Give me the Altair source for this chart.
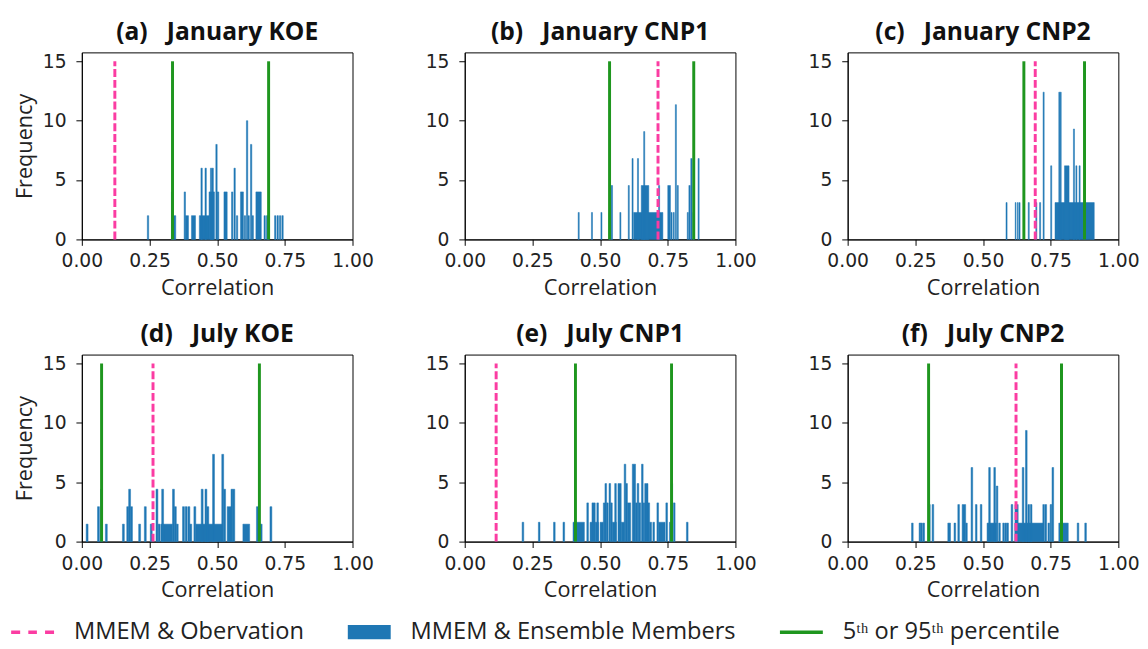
import altair as alt
import pandas as pd

# ---------------- data ----------------
TITLES = [
    "(a)\u00a0\u00a0\u00a0January KOE", "(b)\u00a0\u00a0\u00a0January CNP1", "(c)\u00a0\u00a0\u00a0January CNP2",
    "(d)\u00a0\u00a0\u00a0July KOE", "(e)\u00a0\u00a0\u00a0July CNP1", "(f)\u00a0\u00a0\u00a0July CNP2",
]
# frequency (density) height of one ensemble member in each panel
UNITS = [2.0, 2.27, 3.1, 1.47, 1.63, 1.56]
# MMEM & observation correlation
OBS = [0.122, 0.714, 0.693, 0.263, 0.116, 0.622]
# 5th / 95th percentiles
P5 = [0.335, 0.535, 0.651, 0.073, 0.409, 0.299]
P95 = [0.690, 0.846, 0.875, 0.656, 0.764, 0.790]

# histogram bars: (bin start, bin end, member count)
BARS_A = [
    (0.242, 0.247, 1), (0.331, 0.336, 2), (0.336, 0.347, 1), (0.378, 0.383, 2), (0.383, 0.394, 1),
    (0.405, 0.420, 1), (0.434, 0.470, 1), (0.440, 0.445, 3), (0.455, 0.460, 3),
    (0.470, 0.490, 2), (0.475, 0.480, 3), (0.481, 0.486, 3), (0.495, 0.500, 4), (0.500, 0.506, 2),
    (0.525, 0.537, 2), (0.553, 0.558, 2), (0.562, 0.567, 3), (0.571, 0.576, 1),
    (0.586, 0.597, 2), (0.600, 0.605, 1), (0.608, 0.613, 5), (0.614, 0.619, 1), (0.623, 0.628, 4),
    (0.629, 0.634, 1), (0.643, 0.663, 2), (0.673, 0.678, 1), (0.682, 0.692, 1),
    (0.712, 0.717, 1), (0.721, 0.726, 1), (0.730, 0.735, 1), (0.739, 0.744, 1),
]
BARS_B = [
    (0.419, 0.423, 1), (0.468, 0.472, 1), (0.503, 0.507, 1), (0.533, 0.538, 1), (0.541, 0.546, 2),
    (0.573, 0.577, 1), (0.604, 0.608, 2), (0.618, 0.622, 3), (0.624, 0.732, 1), (0.638, 0.642, 3),
    (0.652, 0.680, 2), (0.661, 0.665, 4), (0.716, 0.720, 2), (0.750, 0.760, 2), (0.762, 0.766, 1),
    (0.770, 0.774, 1), (0.778, 0.782, 5), (0.785, 0.789, 2), (0.822, 0.826, 1), (0.828, 0.833, 2),
    (0.835, 0.840, 3), (0.843, 0.848, 1), (0.862, 0.866, 3),
]
BARS_C = [
    (0.585, 0.589, 1), (0.619, 0.622, 1), (0.627, 0.630, 1), (0.633, 0.637, 1), (0.667, 0.671, 1),
    (0.695, 0.699, 1), (0.709, 0.713, 1), (0.722, 0.726, 4), (0.750, 0.754, 2), (0.766, 0.911, 1),
    (0.780, 0.784, 4), (0.785, 0.789, 4), (0.801, 0.818, 2), (0.834, 0.838, 3), (0.843, 0.847, 2),
    (0.855, 0.859, 2),
]
BARS_D = [
    (0.016, 0.023, 1), (0.058, 0.065, 2), (0.069, 0.076, 3), (0.087, 0.094, 1), (0.150, 0.157, 1),
    (0.166, 0.173, 2), (0.173, 0.180, 3), (0.180, 0.187, 2), (0.210, 0.217, 1), (0.231, 0.238, 2),
    (0.253, 0.260, 1), (0.274, 0.281, 3), (0.282, 0.289, 1), (0.292, 0.335, 1), (0.295, 0.302, 3),
    (0.335, 0.342, 3), (0.342, 0.349, 2), (0.349, 0.356, 1), (0.372, 0.379, 2), (0.382, 0.389, 2),
    (0.392, 0.399, 2), (0.399, 0.406, 1), (0.414, 0.421, 2), (0.421, 0.520, 1), (0.441, 0.448, 3),
    (0.455, 0.462, 3), (0.462, 0.469, 2), (0.483, 0.490, 5), (0.517, 0.524, 5), (0.524, 0.531, 3),
    (0.537, 0.551, 2), (0.551, 0.558, 3), (0.558, 0.565, 3), (0.595, 0.620, 1), (0.645, 0.652, 2),
    (0.659, 0.666, 1), (0.695, 0.702, 2),
]
BARS_E = [
    (0.212, 0.218, 1), (0.272, 0.278, 1), (0.328, 0.334, 1), (0.363, 0.369, 1), (0.400, 0.442, 1),
    (0.451, 0.457, 2), (0.463, 0.470, 1), (0.470, 0.482, 2), (0.482, 0.494, 1), (0.488, 0.494, 2),
    (0.500, 0.512, 1), (0.512, 0.518, 2), (0.518, 0.524, 3), (0.524, 0.530, 2), (0.533, 0.539, 3),
    (0.539, 0.545, 2), (0.545, 0.560, 1), (0.554, 0.560, 3), (0.566, 0.578, 3), (0.578, 0.590, 1),
    (0.589, 0.595, 4), (0.595, 0.601, 3), (0.601, 0.613, 2), (0.619, 0.631, 4), (0.631, 0.637, 2),
    (0.637, 0.643, 3), (0.643, 0.650, 2), (0.653, 0.659, 4), (0.659, 0.665, 2), (0.665, 0.677, 3),
    (0.677, 0.683, 2), (0.683, 0.690, 1), (0.695, 0.701, 1), (0.710, 0.716, 2), (0.716, 0.740, 1),
    (0.743, 0.749, 2), (0.756, 0.762, 1), (0.762, 0.768, 3), (0.771, 0.777, 2), (0.819, 0.825, 1),
]
BARS_F = [
    (0.236, 0.242, 1), (0.264, 0.270, 1), (0.270, 0.276, 1), (0.278, 0.284, 1), (0.298, 0.305, 2),
    (0.312, 0.318, 2), (0.370, 0.380, 1), (0.393, 0.399, 1), (0.407, 0.413, 2), (0.423, 0.436, 2),
    (0.436, 0.442, 1), (0.456, 0.462, 4), (0.472, 0.478, 2), (0.490, 0.496, 2), (0.515, 0.550, 1),
    (0.521, 0.527, 4), (0.540, 0.546, 4), (0.549, 0.555, 3), (0.558, 0.564, 1), (0.573, 0.579, 1),
    (0.581, 0.587, 1), (0.588, 0.594, 1), (0.604, 0.610, 2), (0.618, 0.722, 1), (0.618, 0.630, 2),
    (0.645, 0.651, 4), (0.657, 0.663, 6), (0.666, 0.672, 2), (0.675, 0.681, 2), (0.721, 0.727, 2),
    (0.729, 0.735, 2), (0.740, 0.746, 1), (0.748, 0.754, 2), (0.755, 0.761, 4), (0.780, 0.815, 1),
    (0.848, 0.854, 1), (0.876, 0.882, 1),
]
BARS = [BARS_A, BARS_B, BARS_C, BARS_D, BARS_E, BARS_F]

LEGEND_LABELS = ["MMEM & Obervation", "MMEM & Ensemble Members", "5\u1d57\u02b0 or 95\u1d57\u02b0 percentile"]
X_TICKS = [0.0, 0.25, 0.5, 0.75, 1.0]
Y_TICKS = [0, 5, 10, 15]

# ---------------- styling ----------------
BLUE = "#1f77b4"
PINK = "#fb3ca2"
GREEN = "#1f961f"
DASH_PATH = "M-1,-0.08H-0.58V0.08H-1Z M-0.2,-0.08H0.2V0.08H-0.2Z M0.58,-0.08H1V0.08H0.58Z"
RECT_PATH = "M-1,-0.33H1V0.33H-1Z"
LINE_PATH = "M-1,-0.08H1V0.08H-1Z"

xs = alt.Scale(domain=[0, 1], nice=False, zero=False)
ys = alt.Scale(domain=[0, 15.75], nice=False)


def panel(i):
    bars_df = pd.DataFrame(
        [{"x0": a, "x1": b, "base": 0, "h": c * UNITS[i]} for a, b, c in BARS[i]]
    )
    y_axis_kwargs = dict(values=Y_TICKS)
    if i % 3 == 0:
        y_axis_kwargs["title"] = "Frequency"
    else:
        y_axis_kwargs["title"] = None
    bars = alt.Chart(bars_df).mark_rect(color=BLUE, stroke=BLUE, strokeWidth=0.5).encode(
        x=alt.X("x0:Q", scale=xs,
                axis=alt.Axis(values=X_TICKS, format=".2f", title="Correlation", labelFlush=False)),
        x2="x1:Q",
        y=alt.Y("h:Q", scale=ys, axis=alt.Axis(**y_axis_kwargs)),
        y2="base:Q",
    )
    pct_df = pd.DataFrame({"x": [P5[i], P95[i]], "y0": [0, 0], "y1": [15, 15]})
    green = alt.Chart(pct_df).mark_rule(color=GREEN, strokeWidth=3).encode(
        x="x:Q", y="y0:Q", y2="y1:Q"
    )
    obs_df = pd.DataFrame({"x": [OBS[i]], "y0": [0], "y1": [15]})
    pink = alt.Chart(obs_df).mark_rule(color=PINK, strokeWidth=3, strokeDash=[8, 3]).encode(
        x="x:Q", y="y0:Q", y2="y1:Q"
    )
    layers = [bars, green, pink]
    if i == 0:
        leg = alt.Legend(
            orient="none", legendX=-72, legendY=567, direction="horizontal", columns=3,
            title=None, labelFont="Open Sans", labelFontSize=24, labelColor="#222",
            symbolSize=1900, symbolStrokeWidth=0, labelOffset=20, columnPadding=44,
            labelLimit=400,
        )
        leg_df = pd.DataFrame({"s": LEGEND_LABELS})
        key = alt.Chart(leg_df).transform_filter("false").mark_point(filled=True, opacity=1).encode(
            color=alt.Color("s:N", scale=alt.Scale(domain=LEGEND_LABELS, range=[PINK, BLUE, GREEN]), legend=leg),
            shape=alt.Shape("s:N", scale=alt.Scale(domain=LEGEND_LABELS, range=[DASH_PATH, RECT_PATH, LINE_PATH]), legend=leg),
        )
        layers.append(key)
    return alt.layer(*layers).properties(
        width=275, height=190, title=alt.TitleParams(TITLES[i])
    )


row1 = alt.hconcat(panel(0), panel(1), panel(2), spacing=51)
row2 = alt.hconcat(panel(3), panel(4), panel(5), spacing=51)
chart = alt.vconcat(row1, row2, spacing=22).properties(
    padding={"left": 3, "top": 6, "right": 0, "bottom": 0}
).configure_view(
    stroke="black", strokeWidth=1
).configure_axis(
    labelFont="DejaVu Sans", labelFontSize=19, labelColor="#222",
    titleFont="Open Sans", titleFontSize=22, titleFontWeight="normal", titleColor="#222",
    tickColor="black", domainColor="black", tickSize=6, grid=False,
)
chart = chart.configure_axisX(labelPadding=7, titlePadding=7).configure_axisY(
    labelPadding=10, titlePadding=6
).configure_title(
    font="Open Sans", fontSize=25, fontWeight="bold", color="#111", offset=8, anchor="middle"
)

chart.save("out.html", embed_options={"renderer": "svg", "actions": False})
